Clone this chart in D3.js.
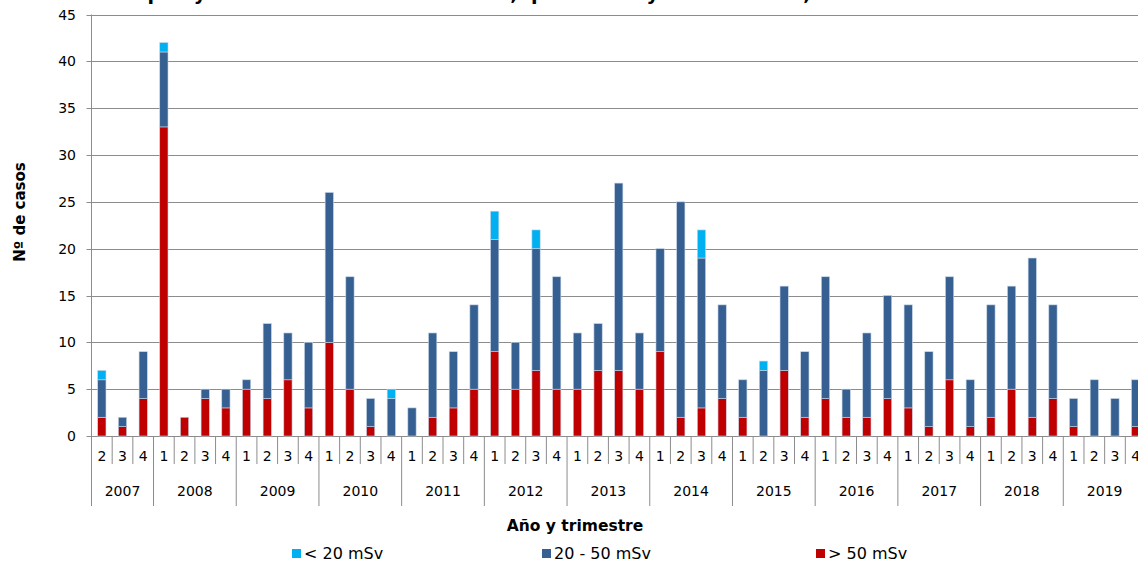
<!DOCTYPE html>
<html>
<head>
<meta charset="utf-8">
<script src="https://cdn.jsdelivr.net/npm/d3@7"></script>
<style>
  body { margin: 0; background: #fff; }
  svg { display: block; font-family: "DejaVu Sans", Verdana, sans-serif; }
</style>
</head>
<body>
<svg id="chart" width="1138" height="562"></svg>
<script>
// years and quarters shown on the axis (2007 starts at Q2)
const years = [2007, 2008, 2009, 2010, 2011, 2012, 2013, 2014, 2015, 2016, 2017, 2018, 2019];
const firstYearQuarters = ["2", "3", "4"];
const quarters = ["1", "2", "3", "4"];

// casos por trimestre
const over50 = [2, 1, 4, 33, 2, 4, 3, 5, 4, 6, 3, 10, 5, 1, 0, 0, 2, 3, 5, 9, 5, 7, 5, 5, 7, 7, 5, 9, 2, 3, 4, 2, 0, 7, 2, 4, 2, 2, 4, 3, 1, 6, 1, 2, 5, 2, 4, 1, 0, 0, 1];
const from20to50 = [4, 1, 5, 8, 0, 1, 2, 1, 8, 5, 7, 16, 12, 3, 4, 3, 9, 6, 9, 12, 5, 13, 12, 6, 5, 20, 6, 11, 23, 16, 10, 4, 7, 9, 7, 13, 3, 9, 11, 11, 8, 11, 5, 12, 11, 17, 10, 3, 6, 4, 5];
const under20 = [1, 0, 0, 1, 0, 0, 0, 0, 0, 0, 0, 0, 0, 0, 1, 0, 0, 0, 0, 3, 0, 2, 0, 0, 0, 0, 0, 0, 0, 3, 0, 0, 1, 0, 0, 0, 0, 0, 0, 0, 0, 0, 0, 0, 0, 0, 0, 0, 0, 0, 0];

const yTicks = [0, 5, 10, 15, 20, 25, 30, 35, 40, 45];

const seriesKeys = ["over50", "from20to50", "under20"];
const seriesNames = { under20: "< 20 mSv", from20to50: "20 - 50 mSv", over50: "> 50 mSv" };
const colors = { under20: "#00b0f0", from20to50: "#376092", over50: "#c00000" };

// build category rows
const rows = [];
years.forEach(function (yr) {
  const qs = yr === 2007 ? firstYearQuarters : quarters;
  qs.forEach(function (q) {
    const i = rows.length;
    rows.push({ id: yr + "-" + q, year: yr, q: q,
      over50: over50[i], from20to50: from20to50[i], under20: under20[i] });
  });
});

const svg = d3.select("#chart");
const plotLeft = 91.5, plotRight = 1146, plotTop = 14.5, plotBottom = 436;

const x = d3.scaleBand()
  .domain(rows.map(d => d.id))
  .range([plotLeft, plotRight])
  .paddingInner(0.6)
  .paddingOuter(0.3);

const y = d3.scaleLinear().domain([0, 45]).range([plotBottom, plotTop]);

const gridColor = "#8c8c8c";

// gridlines
svg.append("g")
  .selectAll("line")
  .data(yTicks)
  .enter()
  .append("line")
  .attr("x1", plotLeft - 5)
  .attr("x2", plotRight)
  .attr("y1", d => Math.round(y(d)) + 0.5)
  .attr("y2", d => Math.round(y(d)) + 0.5)
  .attr("stroke", gridColor)
  .attr("stroke-width", 1.2);

// y axis line
svg.append("line")
  .attr("x1", plotLeft).attr("x2", plotLeft)
  .attr("y1", plotTop).attr("y2", plotBottom)
  .attr("stroke", gridColor);

// y tick labels
svg.append("g")
  .selectAll("text")
  .data(yTicks)
  .enter()
  .append("text")
  .attr("x", 76)
  .attr("y", d => y(d) + 5)
  .attr("text-anchor", "end")
  .style("font-size", "14px")
  .style("fill", "#000")
  .text(d => d);

// stacked bars
const stack = d3.stack().keys(seriesKeys);
const stacked = stack(rows);

svg.append("g")
  .selectAll("g")
  .data(stacked)
  .enter()
  .append("g")
  .attr("fill", d => colors[d.key])
  .selectAll("rect")
  .data(d => d.filter(s => s[1] > s[0]))
  .enter()
  .append("rect")
  .attr("x", d => x(d.data.id))
  .attr("width", x.bandwidth())
  .attr("y", d => y(d[1]))
  .attr("height", d => y(d[0]) - y(d[1]))
  .attr("stroke", "#c6d4e6")
  .attr("stroke-width", 0.6);

// category axis: quarter separators and labels
const step = x.step();
const qAxis = svg.append("g");
rows.forEach(function (d, i) {
  const x0 = plotLeft + i * step;
  const isYearStart = i === 0 || d.q === "1";
  qAxis.append("line")
    .attr("x1", x0).attr("x2", x0)
    .attr("y1", plotBottom).attr("y2", isYearStart ? 506 : 464)
    .attr("stroke", gridColor);
  qAxis.append("text")
    .attr("x", x0 + step / 2)
    .attr("y", 461)
    .attr("text-anchor", "middle")
    .style("font-size", "14px")
    .text(d.q);
});
qAxis.append("line")
  .attr("x1", plotRight).attr("x2", plotRight)
  .attr("y1", plotBottom).attr("y2", 506)
  .attr("stroke", gridColor);

// year labels
years.forEach(function (yr) {
  const yrRows = rows.filter(d => d.year === yr);
  const cx = plotLeft + rows.indexOf(yrRows[0]) * step + yrRows.length * step / 2;
  qAxis.append("text")
    .attr("x", cx)
    .attr("y", 496)
    .attr("text-anchor", "middle")
    .style("font-size", "14px")
    .text(yr);
});

// title (cut off at top, as in the source image)
svg.append("text")
  .attr("x", 566)
  .attr("y", 0)
  .attr("text-anchor", "middle")
  .attr("textLength", 837)
  .attr("lengthAdjust", "spacing")
  .style("font-size", "19px")
  .style("font-weight", "bold")
  .text("proyección de dosis anual, por año y trimestre, 2007 - 2019");

// axis titles
svg.append("text")
  .attr("x", 575)
  .attr("y", 531)
  .attr("text-anchor", "middle")
  .style("font-size", "15.5px")
  .style("font-weight", "bold")
  .text("Año y trimestre");

svg.append("text")
  .attr("transform", "translate(25,212) rotate(-90)")
  .attr("text-anchor", "middle")
  .style("font-size", "15px")
  .style("font-weight", "bold")
  .text("Nº de casos");

// legend
const legendItems = [
  { key: "under20", x: 292 },
  { key: "from20to50", x: 542 },
  { key: "over50", x: 816 }
];
const legend = svg.append("g")
  .selectAll("g")
  .data(legendItems)
  .enter()
  .append("g")
  .attr("transform", d => "translate(" + d.x + ",548)");
legend.append("rect")
  .attr("width", 9).attr("height", 9)
  .attr("y", 1)
  .attr("fill", d => colors[d.key]);
legend.append("text")
  .attr("x", 12)
  .attr("y", 11)
  .style("font-size", "16px")
  .text(d => seriesNames[d.key]);
</script>
</body>
</html>
